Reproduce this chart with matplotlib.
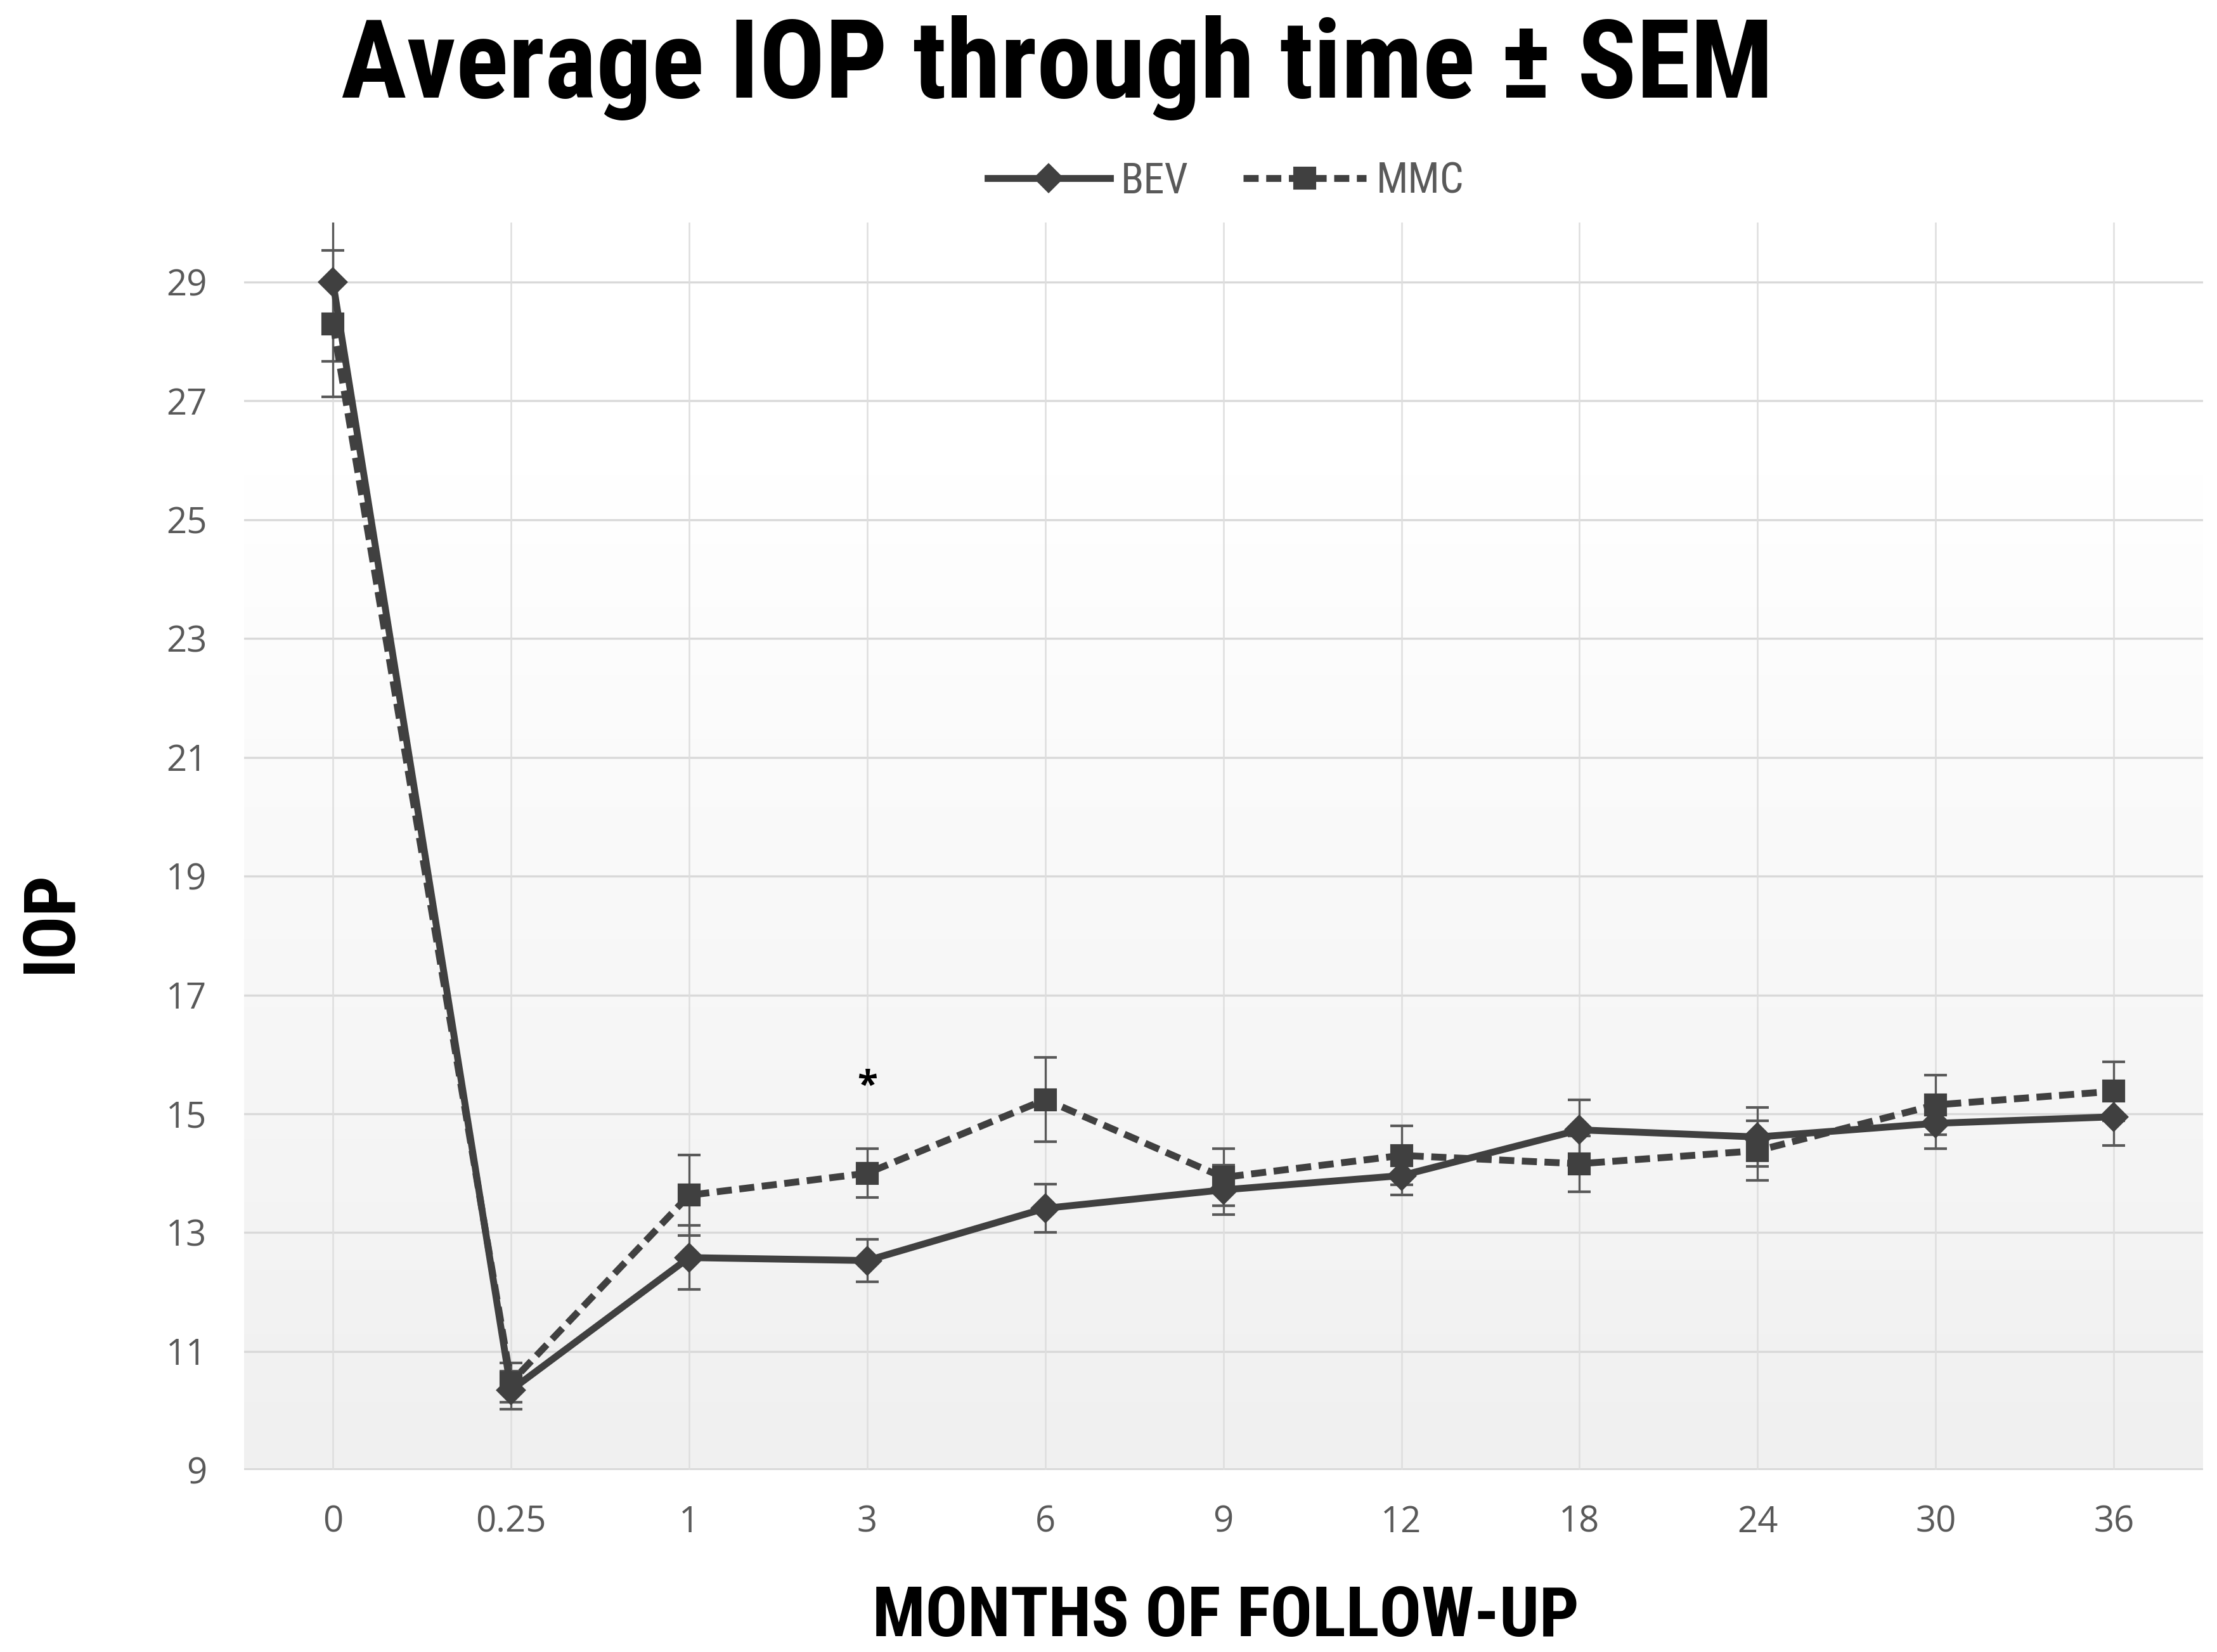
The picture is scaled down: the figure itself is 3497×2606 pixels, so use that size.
import matplotlib
matplotlib.use("Agg")
import matplotlib.pyplot as plt
import numpy as np

# follow-up points (categories) and mean IOP +- SEM
months = ["0", "0.25", "1", "3", "6", "9", "12", "18", "24", "30", "36"]
bev = [29.0, 10.35, 12.58, 12.53, 13.41, 13.72, 13.96, 14.73, 14.61, 14.84, 14.95]
bev_sem = [1.33, 0.32, 0.54, 0.36, 0.41, 0.42, 0.33, 0.51, 0.50, 0.43, 0.48]
mmc = [28.3, 10.48, 13.63, 14.0, 15.24, 13.93, 14.3, 14.16, 14.38, 15.15, 15.38]
mmc_sem = [1.23, 0.33, 0.68, 0.41, 0.71, 0.48, 0.50, 0.47, 0.50, 0.50, 0.50]
star_month = "3"
star_iop = 15.45

cond = ["Roboto Condensed", "Open Sans Condensed", "Liberation Sans Narrow", "DejaVu Sans"]
plt.rcParams["font.family"] = ["Open Sans", "DejaVu Sans"]

fig = plt.figure(figsize=(3497 / 300, 2606 / 300), dpi=300)
ax = fig.add_axes([0.110, 0.110, 0.8836, 0.7552])

x = np.arange(len(months))
dark = "#404040"

# gradient fill of plot area, grey at the bottom fading to white near the top
t = np.linspace(0, 1, 256).reshape(-1, 1)
grad = np.clip(1 - t / 0.8, 0, 1)
cmap = matplotlib.colors.LinearSegmentedColormap.from_list("g", ["#ffffff", "#f0f0f0"])
ax.imshow(grad, extent=[-0.5, 10.5, 9, 30], origin="lower", aspect="auto",
          cmap=cmap, vmin=0, vmax=1, zorder=0)

for yv in range(11, 30, 2):
    ax.axhline(yv, color="#d9d9d9", lw=0.8, zorder=1)
ax.axhline(9, color="#d9d9d9", lw=1.4, zorder=1)
for xv in x:
    ax.axvline(xv, color="#dedede", lw=0.6, zorder=1)

ax.errorbar(x, bev, yerr=bev_sem, fmt="none", ecolor="#595959", elinewidth=0.8,
            capsize=4.4, capthick=1.0, zorder=3)
ax.errorbar(x, mmc, yerr=mmc_sem, fmt="none", ecolor="#595959", elinewidth=0.8,
            capsize=4.4, capthick=1.0, zorder=3)

ax.plot(x, bev, color=dark, lw=2.6, marker="D", ms=7, mfc=dark, mec=dark,
        label="BEV", zorder=4)
ax.plot(x, mmc, color=dark, lw=2.6, ls=(0, (2.2, 1.1)), marker="s", ms=7.5,
        mfc=dark, mec=dark, label="MMC", zorder=4)

ax.text(months.index(star_month), star_iop, "*", ha="center", va="center",
        fontsize=14, fontweight="bold", color="black", zorder=5)

ax.set_xlim(-0.5, 10.5)
ax.set_ylim(9, 30)
ax.set_yticks(range(9, 30, 2))
ax.set_xticks(x)
ax.set_xticklabels(months)
ax.tick_params(axis="both", length=0, labelsize=13.5, colors="#595959")
ax.tick_params(axis="x", pad=13)
ax.tick_params(axis="y", pad=14)
for s in ax.spines.values():
    s.set_visible(False)

fig.text(0.477, 0.959, "Average IOP through time \u00b1 SEM", ha="center", va="center",
         fontsize=41.5, fontweight="bold", fontstretch="condensed", family=cond)
fig.text(0.553, 0.021, "MONTHS OF FOLLOW-UP", ha="center", va="center",
         fontsize=26.5, fontweight="bold", fontstretch="condensed", family=cond)
fig.text(0.023, 0.442, "IOP", ha="center", va="center", rotation=90,
         fontsize=27, fontweight="bold", fontstretch="condensed", family=cond)

leg = ax.legend(loc="center", bbox_to_anchor=(0.553, 0.89), bbox_transform=fig.transFigure,
                ncol=2, frameon=False, handlelength=2.9, columnspacing=1.3,
                handletextpad=0.25,
                prop={"family": cond, "size": 16, "stretch": "condensed"})
for t in leg.get_texts():
    t.set_color("#595959")

fig.savefig("out.png", dpi=300)
